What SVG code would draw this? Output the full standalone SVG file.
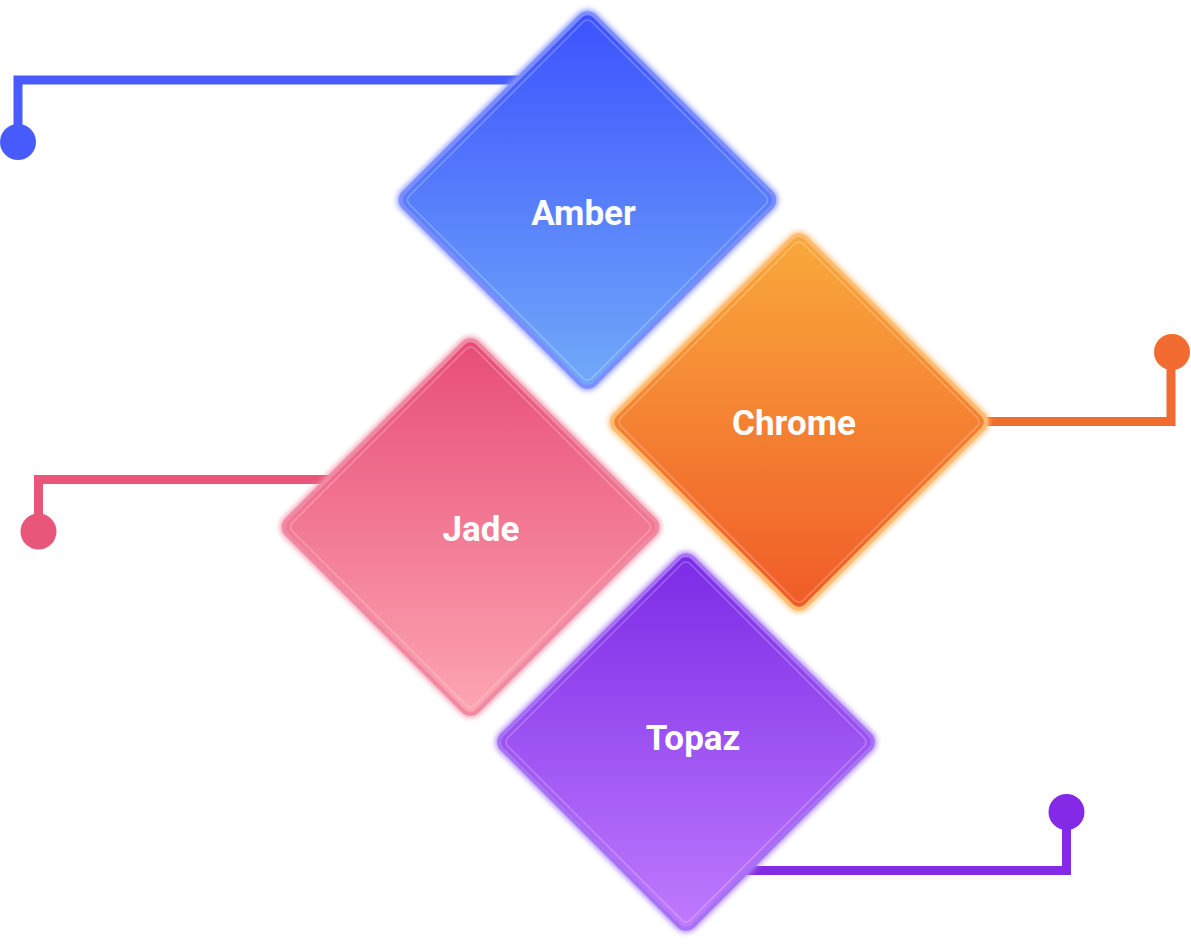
<svg xmlns="http://www.w3.org/2000/svg" width="1191" height="946" viewBox="0 0 1191 946">
  <style>
    .conn { fill: none; stroke-width: 9; stroke-linejoin: miter; }
    .glow { fill: none; stroke-width: 8; opacity: 0.8; }
    .body { stroke-width: 4; }
    .hl { fill: none; stroke: #ffffff; stroke-opacity: 0.25; stroke-width: 1.5; }
    .label { font-family: Roboto, "Liberation Sans", Arial, sans-serif; font-weight: 700; font-size: 35px; fill: #ffffff; text-anchor: middle; }
  </style>
  <defs>
    <filter id="blur" x="-20%" y="-20%" width="140%" height="140%">
      <feGaussianBlur stdDeviation="2.8"/>
    </filter>
    <linearGradient id="gAmber" x1="0" y1="0" x2="1" y2="1">
      <stop offset="0" stop-color="#3c51ff"/>
      <stop offset="1" stop-color="#72abf8"/>
    </linearGradient>
    <linearGradient id="gChrome" x1="0" y1="0" x2="1" y2="1">
      <stop offset="0" stop-color="#f9aa3c"/>
      <stop offset="1" stop-color="#f05a28"/>
    </linearGradient>
    <linearGradient id="gJade" x1="0" y1="0" x2="1" y2="1">
      <stop offset="0" stop-color="#e74c76"/>
      <stop offset="1" stop-color="#fda6b2"/>
    </linearGradient>
    <linearGradient id="gTopaz" x1="0" y1="0" x2="1" y2="1">
      <stop offset="0" stop-color="#7a2ae6"/>
      <stop offset="1" stop-color="#c17bfe"/>
    </linearGradient>
    <rect id="dia" x="-135" y="-135" width="270" height="270" rx="10"/>
  </defs>

  <g id="connectors">
    <path class="conn" stroke="#485cfd" d="M18,142 V80 H530"/>
    <circle cx="18" cy="142" r="18" fill="#485cfd"/>
    <path class="conn" stroke="#f26b30" d="M980,421.5 H1171 V352"/>
    <circle cx="1172" cy="352" r="18" fill="#f26b30"/>
    <path class="conn" stroke="#e8567a" d="M38.5,531 V479.5 H340"/>
    <circle cx="38.5" cy="531.5" r="18" fill="#e8567a"/>
    <path class="conn" stroke="#8429e6" d="M736,870.5 H1066.5 V812"/>
    <circle cx="1066.5" cy="812" r="18" fill="#8429e6"/>
  </g>

  <g id="node-amber">
    <g transform="translate(587.5,200) rotate(45)">
      <rect class="glow" stroke="#7d8dff" filter="url(#blur)" x="-135" y="-135" width="270" height="270" rx="10"/>
      <rect class="body" fill="url(#gAmber)" stroke="#7d8cff" x="-135" y="-135" width="270" height="270" rx="10"/>
      <rect class="hl" x="-129" y="-129" width="258" height="258" rx="6"/>
    </g>
    <text class="label" x="583.5" y="225">Amber</text>
  </g>

  <g id="node-chrome">
    <g transform="translate(799,422) rotate(45)">
      <rect class="glow" stroke="#ffbd72" filter="url(#blur)" x="-135" y="-135" width="270" height="270" rx="10"/>
      <rect class="body" fill="url(#gChrome)" stroke="#ffbb70" x="-135" y="-135" width="270" height="270" rx="10"/>
      <rect class="hl" x="-129" y="-129" width="258" height="258" rx="6"/>
    </g>
    <text class="label" x="794" y="435">Chrome</text>
  </g>

  <g id="node-jade">
    <g transform="translate(470.5,527) rotate(45)">
      <rect class="glow" stroke="#f28da5" filter="url(#blur)" x="-135" y="-135" width="270" height="270" rx="10"/>
      <rect class="body" fill="url(#gJade)" stroke="#f08aa2" x="-135" y="-135" width="270" height="270" rx="10"/>
      <rect class="hl" x="-129" y="-129" width="258" height="258" rx="6"/>
    </g>
    <text class="label" x="481" y="541">Jade</text>
  </g>

  <g id="node-topaz">
    <g transform="translate(686,742) rotate(45)">
      <rect class="glow" stroke="#a978f6" filter="url(#blur)" x="-135" y="-135" width="270" height="270" rx="10"/>
      <rect class="body" fill="url(#gTopaz)" stroke="#a673f4" x="-135" y="-135" width="270" height="270" rx="10"/>
      <rect class="hl" x="-129" y="-129" width="258" height="258" rx="6"/>
    </g>
    <text class="label" x="693" y="750">Topaz</text>
  </g>
</svg>
